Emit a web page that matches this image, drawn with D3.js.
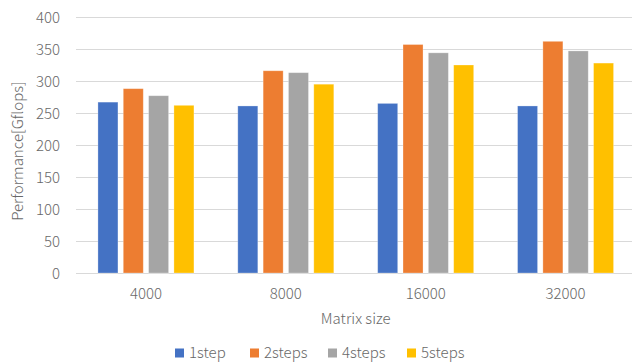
<!DOCTYPE html>
<html>
<head>
<meta charset="utf-8">
<script src="https://cdn.jsdelivr.net/npm/d3@7"></script>
<style>
  html, body { margin: 0; padding: 0; background: #fff; }
  svg { display: block; }
  text { font-family: "Noto Sans CJK JP", "Noto Sans", sans-serif; font-weight: 300; fill: #686868; }
</style>
</head>
<body>
<svg id="chart" width="632" height="362"></svg>
<script>
// Matrix sizes on the x axis
const categories = ["4000", "8000", "16000", "32000"];
// Step variants (one bar per size)
const seriesNames = ["1step", "2steps", "4steps", "5steps"];
const seriesColors = ["#4472C4", "#ED7D31", "#A5A5A5", "#FFC000"];
// Performance in Gflops, one array per step variant, ordered by matrix size
const step1 = [267, 261, 265, 261];
const steps2 = [288, 316, 357, 362];
const steps4 = [277, 313, 344, 347];
const steps5 = [262, 295, 325, 328];
const yTicks = [0, 50, 100, 150, 200, 250, 300, 350, 400];

const values = [step1, steps2, steps4, steps5];
const rows = categories.map((c, i) => ({
  cat: c,
  bars: seriesNames.map((s, j) => ({ name: s, color: seriesColors[j], value: values[j][i] }))
}));

const svg = d3.select("#chart");
const plotLeft = 76, plotRight = 635.5, plotTop = 17, plotBottom = 273;
const fontSize = "15px";
const textColor = "#686868";

const x0 = d3.scaleBand().domain(categories).range([plotLeft, plotRight]);
const bw = x0.bandwidth();
const x1 = d3.scaleBand().domain(seriesNames).range([bw / 2 - 48, bw / 2 + 48]).paddingInner(0.21);
const y = d3.scaleLinear().domain([0, 400]).range([plotBottom, plotTop]);

// horizontal gridlines
svg.append("g")
  .selectAll("line")
  .data(yTicks)
  .join("line")
  .attr("x1", plotLeft).attr("x2", plotRight)
  .attr("y1", d => Math.round(y(d)) + 0.5).attr("y2", d => Math.round(y(d)) + 0.5)
  .attr("stroke", "#d9d9d9").attr("stroke-width", 1.2);

// y axis tick labels
const yAxis = d3.axisLeft(y).tickValues(yTicks).tickSize(0).tickPadding(0);
const gy = svg.append("g").attr("transform", `translate(60,0)`).call(yAxis);
gy.select(".domain").remove();
gy.selectAll("text").style("font-size", fontSize).attr("fill", textColor)
  .attr("dy", "0.36em").style("font-family", "\"Noto Sans CJK JP\", sans-serif").style("font-weight", 300);

// bars
const groups = svg.append("g").selectAll("g")
  .data(rows).join("g")
  .attr("transform", d => `translate(${x0(d.cat)},0)`);
groups.selectAll("rect")
  .data(d => d.bars).join("rect")
  .attr("x", d => x1(d.name))
  .attr("width", x1.bandwidth())
  .attr("y", d => y(d.value))
  .attr("height", d => y(0) - y(d.value))
  .attr("fill", d => d.color)
  .attr("stroke", "#ffffff").attr("stroke-opacity", 0.35).attr("stroke-width", 0.8);

// x axis category labels
const xAxis = d3.axisBottom(x0).tickSize(0).tickPadding(0);
const gx = svg.append("g").attr("transform", `translate(0,${plotBottom})`).call(xAxis);
gx.select(".domain").remove();
gx.selectAll("text").style("font-size", fontSize).attr("fill", textColor)
  .attr("y", 21).attr("dy", "0.36em").style("font-family", "\"Noto Sans CJK JP\", sans-serif").style("font-weight", 300);

// axis titles
svg.append("text")
  .attr("x", (plotLeft + plotRight) / 2).attr("y", 319).attr("dy", "0.36em")
  .attr("text-anchor", "middle").style("font-size", fontSize)
  .text("Matrix size");
svg.append("text")
  .attr("transform", `translate(18,${(plotTop + plotBottom) / 2 + 6}) rotate(-90)`)
  .attr("dy", "0.36em")
  .attr("text-anchor", "middle").style("font-size", fontSize)
  .text("Performance[Gflops]");

// legend
const legendX = [175, 250, 328, 407];
const legend = svg.append("g").selectAll("g")
  .data(seriesNames).join("g")
  .attr("transform", (d, i) => `translate(${legendX[i]},353)`);
legend.append("rect")
  .attr("x", 0).attr("y", -4.5).attr("width", 9).attr("height", 9)
  .attr("fill", (d, i) => seriesColors[i]);
legend.append("text")
  .attr("x", 14).attr("dy", "0.36em").style("font-size", fontSize)
  .text(d => d);
</script>
</body>
</html>
